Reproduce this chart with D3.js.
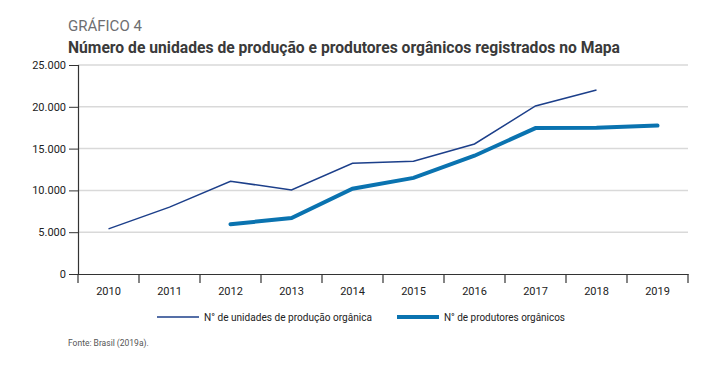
<!DOCTYPE html>
<html>
<head>
<meta charset="utf-8">
<script src="https://cdn.jsdelivr.net/npm/d3@7"></script>
<style>
  body { margin: 0; background: #fff; }
  text { font-family: "Liberation Sans Narrow", "Roboto", sans-serif; }
</style>
</head>
<body>
<div id="chart"></div>
<script>
var years = ["2010", "2011", "2012", "2013", "2014", "2015", "2016", "2017", "2018", "2019"];
var unidades = [5400, 8000, 11100, 10050, 13250, 13500, 15550, 20100, 22000, null];
var produtores = [null, null, 5950, 6700, 10200, 11500, 14150, 17450, 17500, 17750];
var yTicks = [0, 5000, 10000, 15000, 20000, 25000];
var seriesNames = ["N° de unidades de produção orgânica", "N° de produtores orgânicos"];

function init() {
    var w = 702;
    var h = 368;
    var left = 78, right = 688, top = 65, bottom = 274;

    var svg = d3.select("#chart")
                .append("svg")
                .attr("width", w)
                .attr("height", h);

    var xScale = d3.scaleBand()
                .domain(years)
                .range([left, right]);

    var yScale = d3.scaleLinear()
                .domain([0, 25000])
                .range([bottom, top]);

    var fmt = function(d) { return d3.format(",")(d).replace(/,/g, "."); };

    // titles
    svg.append("text")
        .attr("x", 68).attr("y", 31)
        .attr("font-size", 15)
        .attr("fill", "#6d6e71")
        .text("GRÁFICO 4");
    svg.append("text")
        .attr("x", 68).attr("y", 53)
        .attr("font-size", 17)
        .attr("font-weight", "bold")
        .attr("fill", "#3a3a3a")
        .attr("textLength", 552)
        .attr("lengthAdjust", "spacingAndGlyphs")
        .text("Número de unidades de produção e produtores orgânicos registrados no Mapa");

    // gridlines
    svg.selectAll(".grid")
        .data(yTicks.filter(function(d) { return d > 0; }))
        .enter()
        .append("line")
        .attr("x1", left).attr("x2", right)
        .attr("y1", function(d) { return yScale(d); })
        .attr("y2", function(d) { return yScale(d); })
        .attr("stroke", "#d9d9d9")
        .attr("stroke-width", 1.5);

    // y axis
    var yAxis = d3.axisLeft(yScale)
                .tickValues(yTicks)
                .tickFormat(fmt)
                .tickSize(9)
                .tickPadding(3);
    var gy = svg.append("g")
                .attr("transform", "translate(" + left + ",0)")
                .call(yAxis);
    gy.select(".domain").attr("stroke", "#333").attr("stroke-width", 1.2);
    gy.selectAll(".tick line").attr("stroke", "#333");
    gy.selectAll(".tick text").attr("font-size", 11).attr("fill", "#222");

    // x axis
    var xAxis = d3.axisBottom(xScale).tickSize(0).tickPadding(13);
    var gx = svg.append("g")
                .attr("transform", "translate(0," + bottom + ")")
                .call(xAxis);
    gx.select(".domain").attr("stroke", "#333").attr("stroke-width", 1.2);
    gx.selectAll(".tick text").attr("font-size", 11).attr("fill", "#222");

    // x ticks between bands
    var bounds = years.map(function(d) { return xScale(d); }).concat([right]);
    svg.selectAll(".xtick")
        .data(bounds)
        .enter()
        .append("line")
        .attr("x1", function(d) { return d; })
        .attr("x2", function(d) { return d; })
        .attr("y1", bottom)
        .attr("y2", bottom + 9)
        .attr("stroke", "#333")
        .attr("stroke-width", 1.2);

    var line = d3.line()
                .defined(function(d) { return d != null; })
                .x(function(d, i) { return xScale(years[i]) + xScale.bandwidth() / 2; })
                .y(function(d) { return yScale(d); });

    svg.append("path")
        .datum(unidades)
        .attr("d", line)
        .attr("fill", "none")
        .attr("stroke", "#1c3f8a")
        .attr("stroke-width", 1.5);

    svg.append("path")
        .datum(produtores)
        .attr("d", line)
        .attr("fill", "none")
        .attr("stroke", "#0a73b0")
        .attr("stroke-width", 4)
        .attr("stroke-linecap", "round");

    // legend
    var legend = [
        { name: seriesNames[0], x: 157, color: "#1c3f8a", width: 1.5, len: 168 },
        { name: seriesNames[1], x: 397, color: "#0a73b0", width: 4, len: 121 }
    ];
    var lg = svg.selectAll(".legend")
                .data(legend)
                .enter()
                .append("g")
                .attr("transform", function(d) { return "translate(" + d.x + ",317)"; });
    lg.append("line")
        .attr("x1", 0).attr("x2", 42)
        .attr("stroke", function(d) { return d.color; })
        .attr("stroke-width", function(d) { return d.width; });
    lg.append("text")
        .attr("x", 47).attr("y", 4)
        .attr("font-size", 11.5)
        .attr("fill", "#222")
        .attr("textLength", function(d) { return d.len; })
        .attr("lengthAdjust", "spacingAndGlyphs")
        .text(function(d) { return d.name; });

    svg.append("text")
        .attr("x", 68).attr("y", 346)
        .attr("font-size", 8.5)
        .attr("fill", "#555")
        .text("Fonte: Brasil (2019a).");
}

window.onload = init;
</script>
</body>
</html>
